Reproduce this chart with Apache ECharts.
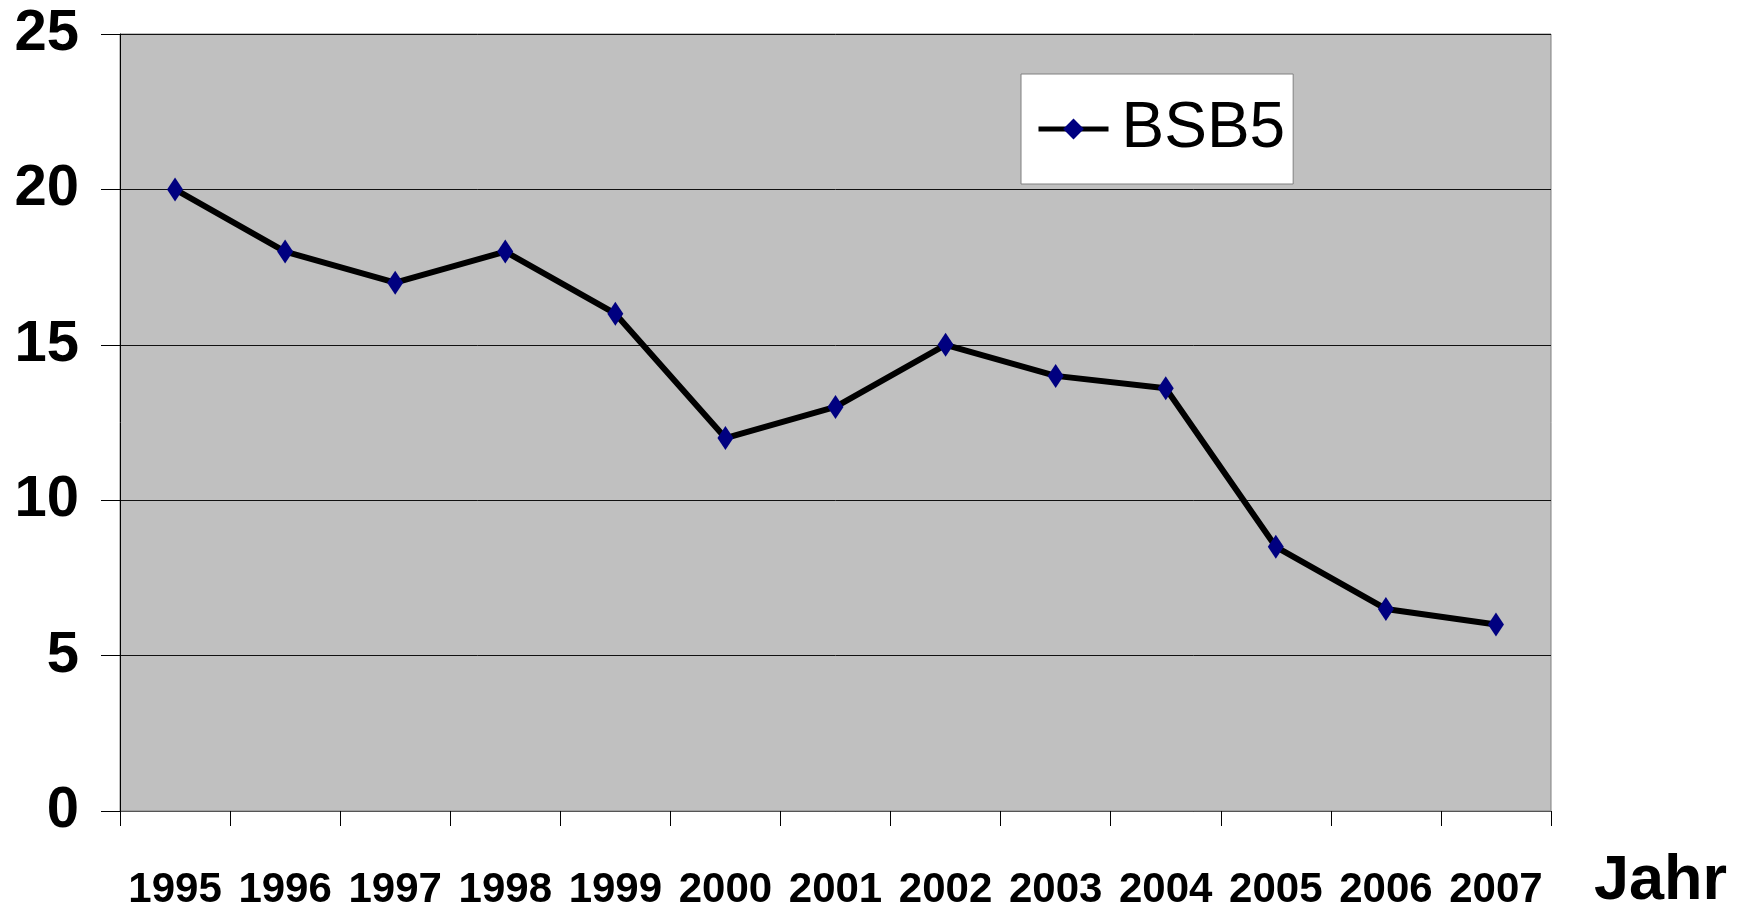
<!DOCTYPE html>
<html>
<head>
<meta charset="utf-8">
<script src="https://cdn.jsdelivr.net/npm/echarts@6/dist/echarts.min.js"></script>
<style>
  html, body { margin: 0; padding: 0; background: #fff; }
  #chart { width: 1737px; height: 914px; }
</style>
</head>
<body>
<div id="chart"></div>
<script>
// Jahre (x-Achse)
var years = ['1995', '1996', '1997', '1998', '1999', '2000', '2001',
             '2002', '2003', '2004', '2005', '2006', '2007'];
// BSB5 Werte
var bsb5 = [20, 18, 17, 18, 16, 12, 13, 15, 14, 13.6, 8.5, 6.5, 6.0];
// y-Achse
var yMin = 0, yMax = 25, yStep = 5;

var font = "'Liberation Sans', Arial, sans-serif";

var myChart = echarts.init(document.getElementById('chart'));
var option = {
    animation: false,
    title: {
        text: 'Jahr',
        left: 1594,
        top: 850,
        padding: 0,
        textStyle: {
            fontFamily: font,
            fontWeight: 'bold',
            fontSize: 63,
            color: '#000'
        }
    },
    legend: {
        data: ['BSB5'],
        left: 1021,
        top: 74,
        orient: 'horizontal',
        backgroundColor: '#fff',
        borderColor: '#808080',
        borderWidth: 1,
        padding: [23, 8, 23, 15],
        itemWidth: 70,
        itemHeight: 26,
        lineStyle: { color: '#000', width: 5 },
        itemStyle: { color: '#000080' },
        textStyle: {
            fontFamily: font,
            fontSize: 64,
            color: '#000',
            padding: [0, 0, 0, 8]
        }
    },
    grid: {
        left: 120,
        right: 186,
        top: 34,
        bottom: 103,
        show: true,
        backgroundColor: '#c0c0c0',
        borderColor: '#808080',
        borderWidth: 1,
        outerBoundsMode: 'none'
    },
    xAxis: {
        type: 'category',
        data: years,
        boundaryGap: true,
        axisLine: { lineStyle: { color: '#555', width: 1 } },
        axisTick: { show: true, length: 15, inside: false, lineStyle: { color: '#000' } },
        axisLabel: {
            margin: 58,
            interval: 0,
            fontFamily: font,
            fontWeight: 'bold',
            fontSize: 42,
            color: '#000'
        },
        splitLine: { show: false }
    },
    yAxis: {
        type: 'value',
        min: yMin,
        max: yMax,
        interval: yStep,
        axisLine: { show: true, lineStyle: { color: '#000', width: 1 } },
        axisTick: { show: true, length: 19, inside: false, lineStyle: { color: '#000' } },
        axisLabel: {
            margin: 41,
            fontFamily: font,
            fontWeight: 'bold',
            fontSize: 58,
            color: '#000'
        },
        splitLine: { show: true, lineStyle: { color: '#111', width: 1 } }
    },
    series: [{
        name: 'BSB5',
        type: 'line',
        data: bsb5,
        symbol: 'diamond',
        symbolSize: [16, 24],
        showAllSymbol: true,
        lineStyle: { color: '#000', width: 6 },
        itemStyle: { color: '#000080', borderWidth: 0 },
        z: 3
    }]
};
myChart.setOption(option);
</script>
</body>
</html>
